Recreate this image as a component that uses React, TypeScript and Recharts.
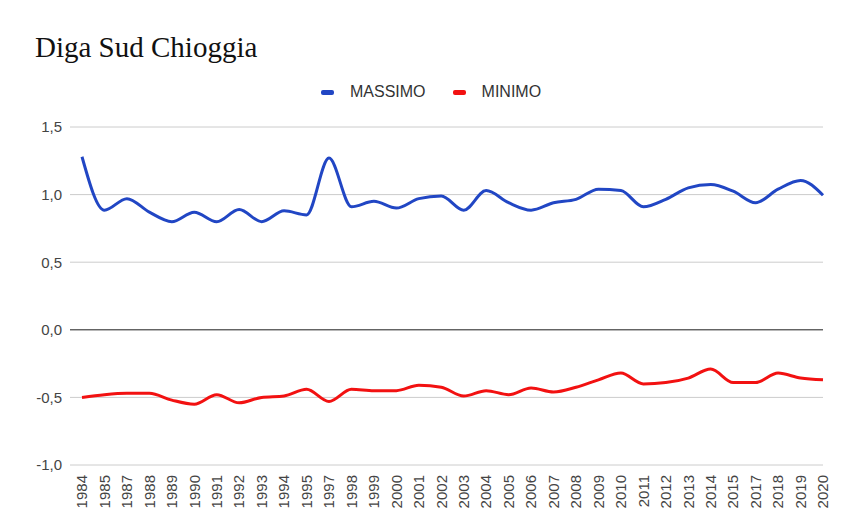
import {
  LineChart,
  XAxis,
  YAxis,
  Line,
  CartesianGrid,
  Legend,
  ReferenceLine,
} from "recharts";

const years = [
  "1984", "1985", "1987", "1988", "1989", "1990", "1991", "1992", "1993", "1994",
  "1995", "1997", "1998", "1999", "2000", "2001", "2002", "2003", "2004", "2005",
  "2006", "2007", "2008", "2009", "2010", "2011", "2012", "2013", "2014", "2015",
  "2017", "2018", "2019", "2020",
];

const massimo = [
  1.28, 0.885, 0.97, 0.87, 0.8, 0.87, 0.8, 0.89, 0.8, 0.88,
  0.85, 1.27, 0.91, 0.95, 0.9, 0.97, 0.99, 0.885, 1.03, 0.94,
  0.885, 0.94, 0.965, 1.04, 1.03, 0.91, 0.965, 1.05, 1.075, 1.025,
  0.94, 1.04, 1.105, 0.995,
];

const minimo = [
  -0.5, -0.48, -0.47, -0.47, -0.52, -0.55, -0.48, -0.54, -0.5, -0.49,
  -0.44, -0.53, -0.44, -0.45, -0.45, -0.41, -0.425, -0.49, -0.45, -0.48,
  -0.43, -0.46, -0.425, -0.37, -0.32, -0.4, -0.39, -0.357, -0.29, -0.39,
  -0.39, -0.32, -0.357, -0.37,
];

const yTicks = [-1, -0.5, 0, 0.5, 1, 1.5];

const data = years.map((y, i) => ({ year: y, MASSIMO: massimo[i], MINIMO: minimo[i] }));

const BLUE = "#2146c4";
const RED = "#f21111";
const font = "Arial, 'Liberation Sans', sans-serif";

const YearTick = (props: any) => {
  const { x, y, payload } = props;
  return (
    <text
      x={x}
      y={y + 2}
      transform={`rotate(-90, ${x}, ${y + 2})`}
      textAnchor="end"
      dy="0.35em"
      fontSize={15}
      fontFamily={font}
      fill="#444"
    >
      {payload.value}
    </text>
  );
};

const LegendContent = () => (
  <div style={{ display: "flex", fontFamily: font, fontSize: 16, color: "#333" }}>
    {[
      { name: "MASSIMO", color: BLUE },
      { name: "MINIMO", color: RED },
    ].map((it) => (
      <div key={it.name} style={{ display: "flex", alignItems: "center", marginRight: 27 }}>
        <span
          style={{
            display: "inline-block",
            width: 13,
            height: 5,
            borderRadius: 2,
            background: it.color,
            marginRight: 16,
          }}
        />
        {it.name}
      </div>
    ))}
  </div>
);

export default function App() {
  return (
    <div style={{ position: "absolute", left: 0, top: 0, width: 844, height: 528, background: "#fff" }}>
      <div
        style={{
          position: "absolute",
          left: 35,
          top: 31,
          fontFamily: "'Liberation Serif', 'Times New Roman', serif",
          fontSize: 29,
          color: "#111",
          lineHeight: "33px",
        }}
      >
        Diga Sud Chioggia
      </div>
      <LineChart
        width={844}
        height={528}
        data={data}
        margin={{ top: 127, right: 21, left: 0, bottom: 0 }}
      >
        <CartesianGrid vertical={false} stroke="#cccccc" />
        <XAxis
          dataKey="year"
          interval={0}
          tick={<YearTick />}
          tickLine={false}
          axisLine={false}
          height={63}
          padding={{ left: 12, right: 0 }}
        />
        <YAxis
          domain={[-1, 1.5]}
          ticks={yTicks}
          width={70}
          tickLine={false}
          axisLine={false}
          tickMargin={2}
          tick={{ fontSize: 15, fontFamily: font, fill: "#444" }}
          tickFormatter={(v: number) => v.toFixed(1).replace(".", ",")}
        />
        <ReferenceLine y={0} stroke="#333" strokeWidth={1} />
        <Legend
          verticalAlign="middle"
          align="center"
          layout="horizontal"
          content={<LegendContent />}
          wrapperStyle={{ position: "absolute", top: 83, left: 321, width: "auto", height: "auto" }}
        />
        <Line
          type="monotone"
          dataKey="MASSIMO"
          stroke={BLUE}
          strokeWidth={3}
          dot={false}
          isAnimationActive={false}
        />
        <Line
          type="monotone"
          dataKey="MINIMO"
          stroke={RED}
          strokeWidth={3}
          dot={false}
          isAnimationActive={false}
        />
      </LineChart>
    </div>
  );
}
